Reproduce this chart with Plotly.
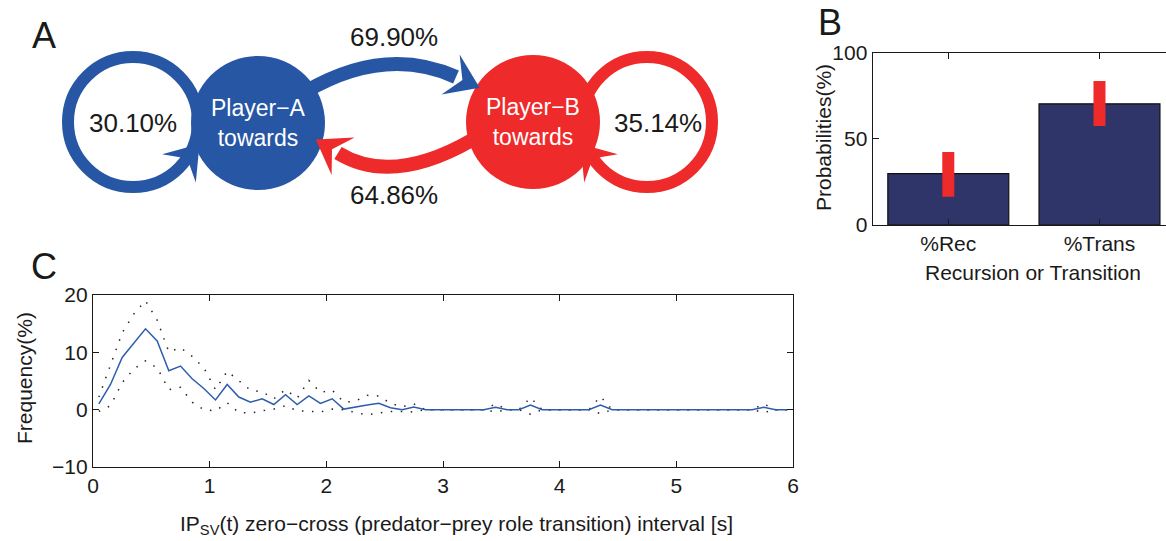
import numpy as np
import plotly.graph_objects as go

FONT = "Liberation Sans, Arial, Helvetica, sans-serif"
BLUE = "#2757A4"
RED = "#EE2A2B"
NAVY = "#2F3469"
INK = "#1a1a1a"

# ---------------- Panel A data (transition probabilities) ----------------
players = ["Player\u2212A", "Player\u2212B"]
self_rates = [30.10, 35.14]      # recursion (loop) percentages
cross_rates = [69.90, 64.86]     # A->B, B->A percentages

# ---------------- Panel B data ----------------
bar_labels = ["%Rec", "%Trans"]
bar_values = [29.8, 70.3]
err_plus = [12.6, 13.3]
err_minus = [13.4, 12.8]

# ---------------- Panel C data ----------------
interval_s = [round(0.05 + 0.1 * i, 2) for i in range(60)]
freq_mean = [1.0, 4.4, 9.1, 11.6, 14.1, 12.0, 6.8, 7.6, 5.4, 3.7,
             1.7, 4.4, 2.2, 1.3, 1.9, 0.9, 2.6, 0.9, 2.4, 1.1,
             1.9, 0.1, 0.5, 0.8, 1.1, 0.35, 0.0, 0.45, 0.0, 0.0,
             0, 0, 0, 0, 0.4, 0, 0, 0.8, 0, 0,
             0, 0, 0, 0.8, 0, 0, 0, 0, 0, 0,
             0, 0, 0, 0, 0, 0, 0, 0.4, 0, 0]
freq_upper = [2.2, 7.8, 13.4, 16.7, 19.0, 15.6, 10.1, 10.8, 9.3, 7.3,
              3.5, 6.7, 5.1, 3.4, 3.1, 1.9, 3.5, 2.0, 5.1, 3.0,
              3.4, 1.3, 1.5, 2.5, 2.4, 1.1, 0.5, 1.0, 0, 0,
              0, 0, 0, 0, 1.0, 0, 0, 2.1, 0, 0,
              0, 0, 0, 2.3, 0, 0, 0, 0, 0, 0,
              0, 0, 0, 0, 0, 0, 0, 1.0, 0, 0]
freq_lower = [-0.3, 0.7, 4.7, 7.1, 8.5, 7.3, 3.5, 3.9, 1.3, 0.0,
              -0.2, 1.2, -0.5, -0.6, -0.2, 0.1, 0.7, -0.2, -0.3, -0.4,
              0.1, 0.0, -0.5, -0.9, -0.6, -0.3, -0.3, -0.4, 0, 0,
              0, 0, 0, 0, -0.4, 0, 0, -0.8, 0, 0,
              0, 0, 0, -0.7, 0, 0, 0, 0, 0, 0,
              0, 0, 0, 0, 0, 0, 0, -0.5, 0, 0]

W, H = 1166, 541

fig = go.Figure()

# ---- Panel C traces ----
dot_style = dict(color="#222222", width=1.5, dash="1.5px,8.5px")
fig.add_trace(go.Scatter(x=interval_s, y=freq_upper, mode="lines", line=dot_style,
                         xaxis="x", yaxis="y", showlegend=False, hoverinfo="skip"))
fig.add_trace(go.Scatter(x=interval_s, y=freq_lower, mode="lines", line=dot_style,
                         xaxis="x", yaxis="y", showlegend=False, hoverinfo="skip"))
fig.add_trace(go.Scatter(x=interval_s, y=freq_mean, mode="lines",
                         line=dict(color="#2F5DAE", width=1.5),
                         xaxis="x", yaxis="y", showlegend=False))

# ---- Panel B trace ----
fig.add_trace(go.Bar(x=[1, 2], y=bar_values, width=0.8,
                     marker=dict(color=NAVY, line=dict(color="#111111", width=1.2)),
                     error_y=dict(type="data", array=err_plus, arrayminus=err_minus,
                                  symmetric=False, color=RED, thickness=12, width=0),
                     xaxis="x2", yaxis="y2", showlegend=False))

# ---- Panel A diagram (pixel-based helper axes) ----
fig.add_trace(go.Scatter(x=[0], y=[0], mode="markers", marker=dict(opacity=0),
                         xaxis="x3", yaxis="y3", showlegend=False, hoverinfo="skip"))

geo = dict(
    node_centers=[(258, 123), (533, 122)], node_r=67,
    loop_centers=[(133, 122), (647, 122)], loop_r=65, loop_w=12,
    arc_w=14,
)
colors = [BLUE, RED]
shapes = []


def arrowhead(px, py, dx, dy, color, L=26, Wd=22, back=6, notch=7):
    n = np.hypot(dx, dy)
    dx, dy = dx / n, dy / n
    ox, oy = -dy, dx
    tip = (px + L * dx, py + L * dy)
    b1 = (px + Wd * ox - back * dx, py + Wd * oy - back * dy)
    nt = (px + notch * dx, py + notch * dy)
    b2 = (px - Wd * ox - back * dx, py - Wd * oy - back * dy)
    path = "M {:.1f},{:.1f} L {:.1f},{:.1f} L {:.1f},{:.1f} L {:.1f},{:.1f} Z".format(
        *tip, *b1, *nt, *b2)
    return dict(type="path", path=path, xref="x3", yref="y3", fillcolor=color,
                line=dict(width=0), layer="above")


# loops
for (cx, cy), col in zip(geo["loop_centers"], colors):
    r = geo["loop_r"]
    shapes.append(dict(type="circle", xref="x3", yref="y3", x0=cx - r, x1=cx + r,
                       y0=cy - r, y1=cy + r, line=dict(color=col, width=geo["loop_w"]),
                       fillcolor="rgba(0,0,0,0)", layer="above"))
# node circles
for (cx, cy), col in zip(geo["node_centers"], colors):
    r = geo["node_r"]
    shapes.append(dict(type="circle", xref="x3", yref="y3", x0=cx - r, x1=cx + r,
                       y0=cy - r, y1=cy + r, line=dict(width=0), fillcolor=col, layer="above"))
# loop arrowheads
th = np.deg2rad(40)
cx, cy = geo["loop_centers"][0]
shapes.append(arrowhead(cx + 65 * np.cos(th), cy + 65 * np.sin(th), np.sin(th), -np.cos(th), BLUE))
th = np.deg2rad(140)
cx, cy = geo["loop_centers"][1]
shapes.append(arrowhead(cx + 65 * np.cos(th), cy + 65 * np.sin(th), -np.sin(th), np.cos(th), RED))
# cross arcs
arcs = [((305, 92), (385, 45), (456, 77), BLUE), ((472, 140), (392, 186), (338, 153), RED)]
for (s, c, e, col) in arcs:
    shapes.append(dict(type="path", xref="x3", yref="y3",
                       path=f"M {s[0]},{s[1]} Q {c[0]},{c[1]} {e[0]},{e[1]}",
                       line=dict(color=col, width=geo["arc_w"]), fillcolor="rgba(0,0,0,0)",
                       layer="above"))
    shapes.append(arrowhead(e[0], e[1], e[0] - c[0], e[1] - c[1], col))

annotations = []
# node labels
for (cx, cy), name in zip(geo["node_centers"], players):
    annotations.append(dict(x=cx, y=cy, xref="x3", yref="y3", text=f"{name}<br>towards",
                            xanchor="center", yanchor="middle",
                            showarrow=False, font=dict(family=FONT, size=23, color="white")))
# percentages
pct_pos_self = [(133, 123), (658, 123)]
pct_pos_cross = [(394, 37), (394, 195)]
for (x, y), v in zip(pct_pos_self + pct_pos_cross, self_rates + cross_rates):
    annotations.append(dict(x=x, y=y, xref="x3", yref="y3", text=f"{v:.2f}%",
                            xanchor="center", yanchor="middle",
                            showarrow=False, font=dict(family=FONT, size=26, color=INK)))


def paper_text(text, x, y, size, angle=0):
    return dict(x=x / W, y=1 - y / H, xref="paper", yref="paper", text=text,
                xanchor="center", yanchor="middle", textangle=angle,
                showarrow=False, font=dict(family=FONT, size=size, color=INK))


# panel letters
for lab, (x, y) in zip(["A", "B", "C"], [(44, 36), (830, 23), (44, 266)]):
    annotations.append(paper_text(lab, x, y, 36))
# axis titles
annotations.append(paper_text("IP<sub>SV</sub>(t) zero\u2212cross (predator\u2212prey role transition) interval [s]",
                              456, 525, 21))
annotations.append(paper_text("Frequency(%)", 24, 378, 21, -90))
annotations.append(paper_text("Recursion or Transition", 1033, 272, 21))
annotations.append(paper_text("Probabilities(%)", 823, 138, 21, -90))

axis_common = dict(showline=True, linecolor=INK, linewidth=1.2, ticks="inside",
                   tickcolor=INK, ticklen=6, showgrid=False, zeroline=False, automargin=False,
                   tickfont=dict(family=FONT, size=21, color=INK))

fig.update_layout(
    width=W, height=H, autosize=False,
    margin=dict(l=0, r=0, t=0, b=0, pad=0, autoexpand=False),
    paper_bgcolor="white", plot_bgcolor="rgba(0,0,0,0)",
    showlegend=False,
    xaxis=dict(domain=[93 / W, 793 / W], range=[0, 6], tickvals=[0, 1, 2, 3, 4, 5, 6],
               mirror="allticks", anchor="y", **axis_common),
    yaxis=dict(domain=[1 - 467 / H, 1 - 295 / H], range=[-10, 20], tickvals=[-10, 0, 10, 20],
               mirror="allticks", anchor="x", **axis_common),
    xaxis2=dict(domain=[872.7 / W, 1.0], range=[0.5, 2.44], tickvals=[1, 2], ticktext=bar_labels,
                mirror="allticks", anchor="y2", **axis_common),
    yaxis2=dict(domain=[1 - 225 / H, 1 - 52.7 / H], range=[0, 100], tickvals=[0, 50, 100],
                mirror=False, anchor="x2", **axis_common),
    xaxis3=dict(domain=[0, 720 / W], range=[0, 720], visible=False, anchor="y3", fixedrange=True),
    yaxis3=dict(domain=[1 - 215 / H, 1], range=[215, 0], visible=False, anchor="x3", fixedrange=True),
    shapes=shapes,
    annotations=annotations,
)

fig.write_html("out.html")
